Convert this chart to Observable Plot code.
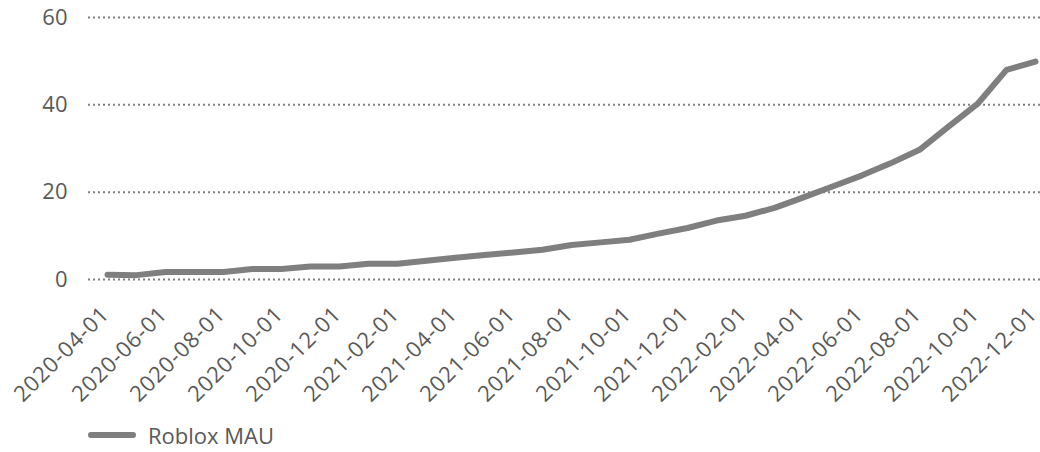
<!DOCTYPE html>
<html>
<head>
<meta charset="utf-8">
<script src="https://cdn.jsdelivr.net/npm/d3@7"></script>
<script src="https://cdn.jsdelivr.net/npm/@observablehq/plot@0.6"></script>
<style>
  html, body { margin: 0; padding: 0; background: #fff; }
  #chart svg { display: block; }
  .xlab text { letter-spacing: 0.9px; }
  .legend { display: flex; align-items: center; height: 34px; font-family: "Open Sans", sans-serif; font-size: 22px; color: #595959; }
  .swatch { width: 48px; height: 6px; border-radius: 3px; background: #7f7f7f; margin-left: 88px; margin-right: 12px; }
</style>
</head>
<body>
<div id="chart"></div>
<div class="legend"><span class="swatch"></span><span>Roblox MAU</span></div>
<script>
const months = [
  "2020-04-01","2020-05-01","2020-06-01","2020-07-01","2020-08-01","2020-09-01","2020-10-01","2020-11-01","2020-12-01",
  "2021-01-01","2021-02-01","2021-03-01","2021-04-01","2021-05-01","2021-06-01","2021-07-01","2021-08-01","2021-09-01",
  "2021-10-01","2021-11-01","2021-12-01","2022-01-01","2022-02-01","2022-03-01","2022-04-01","2022-05-01","2022-06-01",
  "2022-07-01","2022-08-01","2022-09-01","2022-10-01","2022-11-01","2022-12-01"
];
const mau = [
  1.1, 1.0, 1.7, 1.7, 1.7, 2.4, 2.4, 3.0, 3.0,
  3.6, 3.6, 4.3, 5.0, 5.6, 6.2, 6.8, 7.9, 8.5,
  9.1, 10.5, 11.8, 13.5, 14.6, 16.4, 18.8, 21.3, 23.8,
  26.6, 29.7, 35.0, 40.2, 48.0, 49.9
];
const tickLabels = months.filter((d, i) => i % 2 === 0);
const yTicks = [0, 20, 40, 60];

const data = months.map((m, i) => ({month: m, value: mau[i]}));

const chart = Plot.plot({
  width: 1040,
  height: 418,
  marginTop: 17,
  marginBottom: 139,
  marginLeft: 88,
  marginRight: 0,
  style: {fontFamily: "Open Sans", fontSize: "22px", color: "#595959", background: "#fff"},
  x: {type: "point", domain: months, range: [104, 1038], padding: 0, axis: null},
  y: {domain: [0, 60], ticks: yTicks, axis: null},
  marks: [
    Plot.ruleY(yTicks, {stroke: "#7f7f7f", strokeWidth: 2, strokeDasharray: "2,3", strokeOpacity: 1}),
    Plot.axisY({ticks: yTicks, tickSize: 0, tickPadding: 21, fontSize: 22, label: null, fill: "#595959"}),
    Plot.line(data, {x: "month", y: "value", stroke: "#7f7f7f", strokeWidth: 6, strokeLinecap: "round", strokeLinejoin: "round"}),
    Plot.text(tickLabels, {x: d => d, frameAnchor: "bottom", text: d => d, rotate: -45, textAnchor: "end", lineAnchor: "middle", dx: -2, dy: 31, fontSize: 22, fill: "#595959", className: "xlab"})
  ]
});
document.getElementById("chart").appendChild(chart);
</script>
</body>
</html>
